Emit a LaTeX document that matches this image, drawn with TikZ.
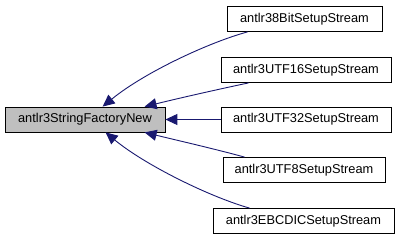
\documentclass[tikz,border=0pt]{standalone}
\usepackage{fontspec}
\setmainfont{Liberation Sans}
\usetikzlibrary{arrows.meta}
\definecolor{edgeblue}{HTML}{191970}
\definecolor{mainfill}{HTML}{BFBFBF}
\tikzset{
  fn/.style={draw=black, line width=0.8bp, fill=white, inner sep=0pt,
             minimum height=25bp, font=\fontsize{12.8bp}{15bp}\selectfont},
  mainfn/.style={fn, fill=mainfill},
  edge/.style={draw=edgeblue, line width=0.9bp,
               -{Triangle[length=12bp,width=11bp,fill=edgeblue]}},
}
\begin{document}
\begin{tikzpicture}[x=1bp,y=-1bp]
  \useasboundingbox (0,0) rectangle (403,240);

  % caller graph root
  \node[mainfn, minimum width=160bp] (main) at (85,119.5) {antlr3StringFactoryNew};

  % callers
  \node[fn, minimum width=155bp] (s8)  at (304.5,19)  {antlr38BitSetupStream};
  \node[fn, minimum width=170bp] (s16) at (306,70)    {antlr3UTF16SetupStream};
  \node[fn, minimum width=170bp] (s32) at (306,119.5) {antlr3UTF32SetupStream};
  \node[fn, minimum width=162bp] (su8) at (304,170)   {antlr3UTF8SetupStream};
  \node[fn, minimum width=181bp] (seb) at (303.5,221) {antlr3EBCDICSetupStream};

  % calls into the root
  \draw[edge] ([xshift=21bp]s8.south west) .. controls (210,42) and (145,72) .. ([xshift=98bp]main.north west);
  \draw[edge] ([xshift=28bp]s16.south west) .. controls (215,90) and (180,98) .. ([xshift=140bp]main.north west);
  \draw[edge] (s32.west) -- (main.east);
  \draw[edge] ([xshift=22bp]su8.north west) .. controls (215,149) and (180,141) .. ([xshift=140bp]main.south west);
  \draw[edge] ([xshift=37bp]seb.north west) .. controls (210,197) and (145,165) .. ([xshift=101bp]main.south west);
\end{tikzpicture}
\end{document}
